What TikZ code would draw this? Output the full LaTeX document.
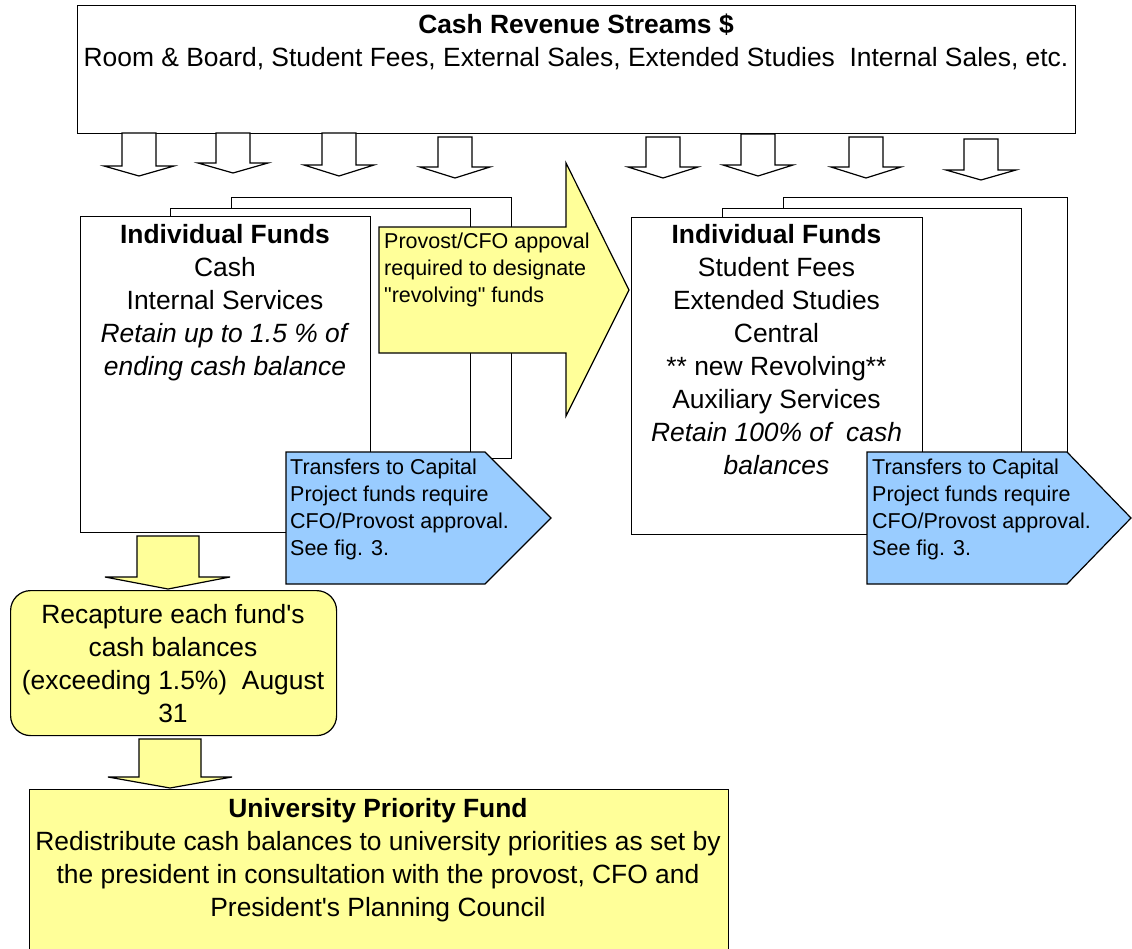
\documentclass[tikz,border=0pt]{standalone}
\usepackage{fontspec}
\setmainfont{Liberation Sans}
\definecolor{paleyellow}{HTML}{FFFF99}
\definecolor{paleblue}{HTML}{99CCFF}
\tikzset{
  box/.style={draw, fill=white, line width=1.2pt, anchor=north west, inner sep=0pt},
  big/.style={font=\fontsize{26.4}{33}\selectfont, align=center, anchor=north, inner sep=0pt, execute at begin node=\strut},
  small/.style={font=\fontsize{21.5}{27}\selectfont, align=left, anchor=north west, inner sep=0pt, execute at begin node=\strut},
  hollow/.style={draw, fill=white, line width=1.2pt, line join=miter},
  bigarrow/.style={draw, fill=paleyellow, line width=1.2pt, line join=miter},
  tag/.style={draw, fill=paleblue, line width=1.2pt, line join=miter}
}
\begin{document}
\begin{tikzpicture}[x=1pt, y=-1pt]
\useasboundingbox (0,0) rectangle (1132,948);
\clip (0,0) rectangle (1132,948);
\fill[white] (0,0) rectangle (1132,948);

\node[box, minimum width=998pt, minimum height=128pt] (streams) at (77,5) {};
\node[big] (streamstext) at (576,13.4) {\textbf{Cash Revenue Streams \$}\\Room \& Board, Student Fees, External Sales, Extended Studies\ \ Internal Sales, etc.};

\foreach \xa/\ya/\yb/\yc in {139/133/166/176, 233/133/163/173, 339/133/165/176, 455/137/167/178, 663/137/167/178, 758/134/165/176, 866/137/167/178, 981/139/170/180}
  \draw[hollow] (\xa-17,\ya) -- (\xa+17,\ya) -- (\xa+17,\yb) -- (\xa+35,\yb) -- (\xa,\yc) -- (\xa-35,\yb) -- (\xa-17,\yb) -- cycle;

\node[box, minimum width=280pt, minimum height=261pt] (cashback2) at (231,197) {};
\node[box, minimum width=300pt, minimum height=292pt] (cashback1) at (170,208) {};
\node[box, minimum width=290pt, minimum height=316pt] (cash) at (80,216) {};
\node[big] (cashtext) at (225,224.6) {\textbf{Individual Funds}\\Cash\\Internal Services\\\textit{Retain up to 1.5 \% of}\\\textit{ending cash balance}};

\node[box, minimum width=284pt, minimum height=300pt] (revback2) at (783,197) {};
\node[box, minimum width=299pt, minimum height=290pt] (revback1) at (722,208) {};
\node[box, minimum width=291pt, minimum height=317pt] (rev) at (631,217) {};
\node[big] (revtext) at (776.5,224.6) {\textbf{Individual Funds}\\Student Fees\\Extended Studies\\Central\\** new Revolving**\\Auxiliary Services\\\textit{Retain 100\% of\ \ cash}\\\textit{balances}};

\draw[bigarrow] (379,227) -- (566,227) -- (566,163) -- (629,290) -- (566,416) -- (566,353) -- (379,353) -- cycle;
\node[small] (approval) at (384,232.9) {Provost/CFO appoval\\required to designate\\\textquotedbl revolving\textquotedbl\ funds};

\draw[tag] (286,452) -- (485,452) -- (551,518) -- (485,584) -- (286,584) -- cycle;
\node[small] (cashtransfer) at (290,458.6) {Transfers to Capital\\Project funds require\\CFO/Provost approval.\\See fig. 3.};
\draw[tag] (867,452) -- (1067,452) -- (1131,518) -- (1067,584) -- (867,584) -- cycle;
\node[small] (revtransfer) at (872,458.6) {Transfers to Capital\\Project funds require\\CFO/Provost approval.\\See fig. 3.};

\draw[bigarrow] (137,536) -- (199,536) -- (199,577) -- (230,577) -- (168,589) -- (105,577) -- (137,577) -- cycle;
\node[box, fill=paleyellow, rounded corners=20pt, minimum width=326pt, minimum height=145pt] (recapture) at (10,590) {};
\node[big] (recapturetext) at (173,604.6) {Recapture each fund\textquotesingle s\\cash balances\\(exceeding 1.5\%)\ \ August\\31};

\draw[bigarrow] (139,739) -- (201,739) -- (201,777) -- (232,777) -- (170,788) -- (108,777) -- (139,777) -- cycle;
\node[box, fill=paleyellow, minimum width=699pt, minimum height=200pt] (priority) at (29,789) {};
\node[big] (prioritytext) at (378,797.9) {\textbf{University Priority Fund}\\Redistribute cash balances to university priorities as set by\\the president in consultation with the provost, CFO and\\President\textquotesingle s Planning Council};
\end{tikzpicture}
\end{document}
